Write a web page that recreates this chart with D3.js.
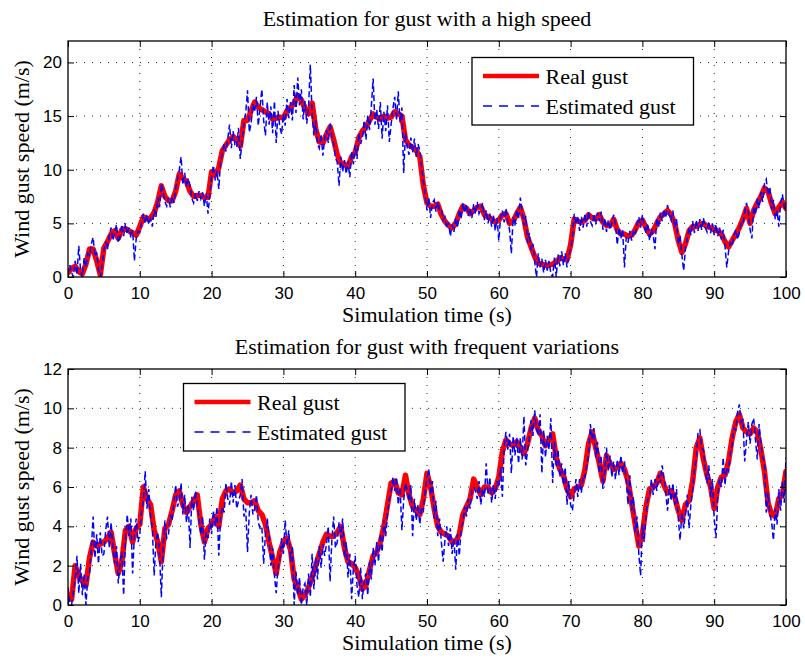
<!DOCTYPE html>
<html>
<head>
<meta charset="utf-8">
<script src="https://cdn.jsdelivr.net/npm/d3@7"></script>
<style>
  body { margin: 0; background: #fff; }
  svg { display: block; }
</style>
</head>
<body>
<svg id="chart" width="805" height="661"></svg>
<script>
// Time axis ticks (seconds) and speed ticks for each panel (m/s)
const timeTicks = [0, 10, 20, 30, 40, 50, 60, 70, 80, 90, 100];
const highSpeedTicks = [0, 5, 10, 15, 20];
const freqSpeedTicks = [0, 2, 4, 6, 8, 10, 12];

// Sampling periods of the two signals (s)
const realStep = 0.5;
const estStep = 0.25;

const legendLabels = ["Real gust", "Estimated gust"];

// Panel 1: gust with a high speed — real gust, every 0.5 s
const highReal = [
  0.4,0.8,1.0,0.5,0.3,1.2,2.6,2.6,1.5,0.2,
  2.7,3.3,4.0,4.3,3.6,4.4,4.5,4.3,4.1,3.9,
  4.7,5.6,5.4,5.5,6.0,7.0,8.5,7.5,7.1,7.1,
  8.0,9.6,9.2,8.9,8.0,7.5,7.6,7.6,7.4,7.4,
  9.8,9.5,10.2,11.8,12.3,12.8,13.1,12.8,12.2,14.6,
  14.6,15.5,16.3,15.8,15.6,15.4,15.2,14.7,14.8,14.9,
  14.8,15.5,15.8,16.2,16.9,16.5,15.8,15.2,16.2,13.8,
  12.6,12.5,13.3,14.0,12.8,11.4,10.6,10.5,10.3,11.2,
  11.6,13.0,13.6,14.0,14.6,15.2,14.9,14.7,15.0,14.8,
  14.9,15.4,15.2,15.0,12.8,12.3,12.1,11.8,11.2,8.5,
  6.9,6.6,6.6,6.8,5.8,5.2,4.8,4.6,5.0,5.9,
  6.6,6.4,5.9,6.2,6.5,6.6,5.8,5.6,5.4,5.1,
  5.3,5.8,5.9,5.0,5.2,5.9,6.5,5.4,3.7,2.8,
  1.9,1.3,1.2,1.1,1.1,1.2,1.4,1.8,1.7,1.6,
  3.0,5.4,5.2,5.1,5.3,5.8,5.5,5.4,5.8,5.1,
  4.8,4.8,5.4,4.4,4.0,4.0,3.8,3.9,4.4,5.1,
  5.3,4.6,4.0,4.3,5.0,5.6,5.9,6.2,5.8,5.0,
  3.4,2.3,3.1,4.3,4.7,4.7,4.9,5.0,4.7,4.6,
  4.4,4.3,4.0,3.3,2.8,3.4,4.0,4.6,5.4,6.4,
  5.0,6.2,6.9,7.5,8.3,8.0,6.8,5.9,6.5,7.0,
  6.4
];

// Panel 1: estimated gust, every 0.25 s
const highEst = [
  0.2,1.1,0.4,0.0, 1.5,0.2,2.9,0.6, 0.0,1.8,0.9,2.2, 2.0,3.1,3.7,1.9, 2.3,0.6,0.0,1.1,
  2.4,3.3,2.6,3.9, 4.6,3.4,4.1,4.9, 3.2,3.7,4.9,3.8, 5.0,4.0,4.6,3.7, 4.4,1.5,3.6,4.3,
  4.2,5.1,5.9,5.0, 5.8,4.9,5.4,4.7, 6.3,5.6,7.4,6.5, 8.7,7.9,7.0,6.6, 7.4,6.5,7.5,6.9,
  8.3,9.1,10.0,11.2, 8.6,9.7,8.4,9.2, 8.5,7.3,6.9,7.8, 7.1,8.0,7.3,7.9, 6.6,7.8,5.9,7.7,
  9.4,10.4,9.0,9.9, 8.2,10.8,11.5,12.4, 11.7,12.9,14.2,12.0, 13.6,12.3,12.1,13.9, 11.0,12.7,14.2,15.3,
  17.4,13.5,14.3,16.1, 15.4,16.8,14.1,15.9, 17.5,14.6,13.2,16.3, 14.2,15.9,13.4,16.4, 12.5,15.5,14.0,13.3,
  15.2,14.1,16.6,14.8, 16.3,14.6,17.9,15.3, 18.6,16.0,17.5,14.7, 16.4,14.3,15.8,19.8, 15.1,13.2,14.6,12.4,
  12.0,13.3,11.3,12.9, 13.7,12.5,14.4,13.1, 12.4,11.1,10.7,8.5, 11.2,9.8,10.9,9.6, 10.8,9.3,11.7,10.5,
  12.3,11.0,13.4,12.4, 13.0,14.6,12.8,15.1, 13.7,15.9,18.5,14.2, 15.6,13.8,16.3,12.9, 15.4,13.6,16.0,12.6,
  14.2,15.7,16.8,14.6, 17.3,14.4,15.8,9.7, 13.4,12.1,11.4,13.0, 11.6,12.9,11.2,12.4, 11.8,10.3,8.9,7.6,
  6.2,7.4,5.5,6.9, 7.2,6.1,7.0,6.3, 6.4,5.3,5.6,4.6, 5.1,3.8,4.9,4.2, 5.5,4.6,6.3,5.4,
  6.9,6.0,6.8,5.7, 6.4,5.5,6.8,5.9, 7.0,5.9,6.3,6.9, 5.3,6.2,5.0,5.9, 4.7,5.8,4.3,5.5,
  3.4,5.6,6.2,5.1, 6.4,5.2,4.4,2.2, 5.6,4.8,6.3,5.4, 7.4,6.1,4.8,5.7, 3.2,4.1,2.5,3.1,
  1.4,0.0,2.2,0.9, 1.7,0.4,1.6,0.6, 1.5,0.3,0.0,1.8, 0.0,2.1,1.0,2.4, 1.1,2.2,0.9,2.0,
  2.6,3.6,5.9,4.9, 5.7,4.3,5.6,4.6, 5.9,4.7,6.1,5.2, 4.8,5.9,4.9,6.0, 5.2,6.1,4.4,5.5,
  4.2,5.3,4.4,5.1, 5.8,4.9,3.0,4.6, 3.6,4.4,0.9,3.7, 3.2,4.3,3.4,4.2, 3.9,4.9,5.6,4.6,
  5.8,4.8,4.1,5.0, 3.4,4.5,3.9,2.6, 5.5,4.6,6.0,5.2, 6.3,5.5,6.7,5.8, 5.3,6.2,4.6,5.4,
  3.0,3.9,2.0,0.6, 2.7,3.6,4.6,3.9, 5.2,4.1,5.3,4.3, 5.4,4.4,5.5,4.6, 4.2,5.2,4.1,5.0,
  3.9,4.9,3.8,4.6, 3.5,4.4,2.9,0.9, 2.4,3.2,2.9,3.9, 4.4,3.5,4.1,5.1, 5.0,6.0,6.9,6.0,
  4.4,3.6,6.6,5.8, 7.3,6.4,7.9,7.0, 8.7,9.1,7.6,8.4, 6.3,7.2,5.4,6.2, 4.7,6.9,7.7,6.5,
  6.2
];

// Panel 2: gust with frequent variations — real gust, every 0.5 s
const freqReal = [
  0.5,0.3,2.0,1.5,1.2,1.0,2.4,3.2,3.0,3.1,
  3.2,3.4,3.7,2.6,1.6,2.2,3.8,4.0,3.2,3.9,
  4.1,6.0,5.4,5.1,3.8,3.2,2.2,3.9,4.1,4.8,
  5.6,5.8,5.1,4.7,5.0,5.3,5.6,4.1,3.2,3.9,
  4.1,4.5,4.0,5.4,5.8,5.9,5.7,5.8,6.1,5.4,
  5.2,5.2,5.3,4.8,4.6,4.1,3.2,2.4,1.6,2.7,
  3.2,3.4,2.8,1.3,0.9,0.3,0.5,0.9,1.4,2.0,
  2.6,3.2,3.6,3.5,3.5,3.7,4.0,2.9,2.2,2.1,
  1.9,1.5,0.8,1.0,1.8,2.5,2.7,3.2,4.0,5.1,
  6.2,6.3,5.7,5.6,6.6,5.6,5.0,4.8,4.6,5.4,
  6.7,6.0,4.9,4.0,3.7,3.6,3.5,3.2,3.2,3.6,
  4.6,5.0,5.4,6.4,6.0,5.6,6.0,6.0,5.7,5.9,
  6.5,7.8,8.4,8.2,8.1,8.3,8.0,7.7,8.2,9.0,
  9.5,8.9,8.6,8.1,8.4,8.7,7.5,6.9,6.6,5.9,
  5.5,5.9,6.0,6.1,6.9,8.2,8.8,8.0,7.2,6.3,
  7.6,7.2,6.9,7.0,7.2,6.9,6.3,5.2,4.1,3.0,
  3.6,5.0,5.9,6.0,6.2,6.7,6.1,5.7,5.8,5.5,
  4.8,4.3,5.1,5.3,6.3,8.0,8.5,7.4,6.6,6.0,
  4.9,6.0,6.5,6.6,7.3,8.5,9.3,9.7,9.0,8.8,
  8.7,9.0,8.8,7.9,6.8,5.2,4.6,4.5,5.4,5.6,
  6.8
];

// Panel 2: estimated gust, every 0.25 s
const freqEst = [
  0.9,0.1,0.0,0.7, 1.3,2.5,0.6,2.1, 0.5,1.6,0.0,1.4, 1.6,2.9,4.5,2.4, 3.6,2.1,3.7,2.5,
  2.6,3.8,4.5,2.9, 4.2,3.0,2.1,3.0, 1.1,2.2,2.7,0.5, 3.3,4.6,3.5,4.4, 1.6,3.6,4.4,3.2,
  3.6,4.7,5.3,6.8, 4.9,5.9,4.5,3.9, 1.5,3.3,3.7,2.6, 0.4,2.9,4.3,3.4, 3.6,4.6,4.3,5.2,
  6.1,5.0,5.3,6.2, 4.6,5.6,4.2,5.1, 2.9,5.5,4.8,5.8, 5.1,4.4,3.6,4.5, 2.3,3.7,3.4,4.4,
  3.6,4.8,4.0,5.0, 2.5,4.4,5.0,4.7, 6.2,5.4,5.1,6.3, 5.2,6.1,4.9,5.3, 5.6,6.4,4.5,4.9,
  2.7,4.7,5.6,4.6, 4.9,5.6,4.2,3.9, 4.0,2.1,3.6,4.4, 3.5,2.0,2.9,1.5, 0.6,1.9,2.3,3.4,
  2.6,4.3,3.0,3.8, 2.2,3.0,0.0,1.7, 0.5,1.4,0.0,0.9, 1.1,0.0,1.6,0.4, 2.6,0.8,2.4,1.3,
  3.0,1.9,3.1,2.5, 3.1,4.0,1.2,3.3, 4.5,2.9,3.2,4.2, 3.4,4.4,2.4,3.2, 1.4,2.6,0.3,1.9,
  2.5,1.0,0.4,1.9, 0.3,1.3,1.6,0.5, 2.2,1.3,2.9,2.0, 3.2,2.2,3.6,2.7, 4.3,3.5,4.6,5.4,
  5.7,6.5,5.8,6.5, 5.1,6.0,3.8,5.3, 6.2,5.8,5.3,6.1, 3.5,5.4,4.3,5.1, 4.1,5.0,4.8,5.9,
  6.4,6.9,5.6,6.3, 4.4,5.3,3.5,4.4, 3.2,2.2,3.3,4.0, 3.0,3.9,2.6,3.4, 1.8,3.6,2.5,3.9,
  4.2,5.0,4.5,5.4, 4.9,5.8,6.0,5.8, 5.4,6.3,5.1,5.9, 5.5,7.2,5.6,6.5, 5.2,6.1,5.4,6.3,
  6.0,7.0,5.5,8.1, 8.8,7.9,8.7,6.7, 8.6,7.6,8.5,7.2, 8.5,7.4,9.6,7.1, 7.8,8.5,9.4,8.6,
  9.9,9.0,8.6,9.7, 6.7,8.9,7.5,8.6, 7.9,9.5,6.2,8.3, 7.0,7.9,6.5,7.2, 6.1,7.0,5.1,6.3,
  5.1,4.8,5.6,6.4, 5.5,6.4,5.7,6.6, 6.5,7.1,7.6,9.2, 8.4,9.0,7.5,8.3, 6.7,7.6,5.9,6.8,
  8.0,6.8,7.6,6.5, 7.3,6.4,7.4,6.6, 7.6,6.7,7.3,6.3, 5.1,6.6,4.8,5.5, 3.7,4.5,2.6,1.5,
  4.1,3.2,4.6,5.4, 5.5,6.4,5.6,6.4, 5.8,6.6,6.2,7.1, 6.5,5.7,4.8,6.1, 5.3,6.2,5.1,5.9,
  4.4,3.3,4.7,3.9, 4.6,5.6,3.9,5.1, 5.8,6.9,7.4,8.8, 8.9,8.0,7.9,6.9, 6.2,7.1,5.5,6.4,
  4.4,3.4,5.5,6.4, 6.0,7.5,6.1,7.0, 6.8,7.7,8.1,9.0, 8.9,9.8,10.2,9.3, 9.4,7.3,8.4,9.3,
  8.2,9.2,9.5,8.4, 7.4,9.2,8.3,7.5, 7.3,4.7,5.7,4.6, 4.2,3.3,4.9,4.1, 5.9,4.8,6.3,5.2,
  7.5
];

const panels = [
  { id: "high", title: "Estimation for gust with a high speed",
    top: 41, bottom: 277, yMax: 22, yTicks: highSpeedTicks,
    real: highReal, est: highEst, legend: { x: 472, y: 57.5 } },
  { id: "freq", title: "Estimation for gust with frequent variations",
    top: 369, bottom: 605, yMax: 12, yTicks: freqSpeedTicks,
    real: freqReal, est: freqEst, legend: { x: 183.5, y: 383.5 } }
];

const svg = d3.select("#chart");
const plotLeft = 68, plotRight = 786;
const serif = "'Liberation Serif', 'Times New Roman', Times, serif";
const sans = "'Liberation Sans', Arial, Helvetica, sans-serif";
const defs = svg.append("defs");

panels.forEach(p => {
  const x = d3.scaleLinear().domain([0, 100]).range([plotLeft, plotRight]);
  const y = d3.scaleLinear().domain([0, p.yMax]).range([p.bottom, p.top]);
  const g = svg.append("g");

  defs.append("clipPath").attr("id", "clip-" + p.id)
    .append("rect")
    .attr("x", plotLeft).attr("y", p.top)
    .attr("width", plotRight - plotLeft).attr("height", p.bottom - p.top);

  // dotted grid
  const grid = g.append("g").attr("stroke", "#222").attr("stroke-width", 1)
    .attr("stroke-dasharray", "1,7");
  grid.selectAll("line.gx").data(timeTicks.slice(1, -1)).join("line")
    .attr("x1", d => x(d)).attr("x2", d => x(d))
    .attr("y1", p.top).attr("y2", p.bottom);
  grid.selectAll("line.gy").data(p.yTicks.filter(v => v > 0 && v < p.yMax)).join("line")
    .attr("x1", plotLeft).attr("x2", plotRight)
    .attr("y1", d => y(d)).attr("y2", d => y(d));

  // signals: real gust underneath, estimate dashed on top
  const lines = g.append("g").attr("clip-path", `url(#clip-${p.id})`);
  const realLine = d3.line().x((d, i) => x(i * realStep)).y(d => y(d));
  const estLine = d3.line().x((d, i) => x(i * estStep)).y(d => y(d));
  lines.append("path").datum(p.real)
    .attr("d", realLine).attr("fill", "none")
    .attr("stroke", "#ff0000").attr("stroke-width", 5.5)
    .attr("stroke-linejoin", "round").attr("stroke-linecap", "round");
  lines.append("path").datum(p.est)
    .attr("d", estLine).attr("fill", "none")
    .attr("stroke", "#0000ff").attr("stroke-width", 1.5)
    .attr("stroke-dasharray", "6,3");

  // axes: ticks pointing inward on all four sides
  const styleAxis = sel => {
    sel.select(".domain").remove();
    sel.selectAll(".tick line").attr("stroke", "#000").attr("stroke-width", 1);
    sel.selectAll(".tick text").attr("fill", "#000")
      .style("font-family", sans).style("font-size", "17px");
  };
  g.append("g").attr("transform", `translate(0,${p.bottom})`)
    .call(d3.axisBottom(x).tickValues(timeTicks).tickSizeInner(-6).tickSizeOuter(0).tickPadding(10))
    .call(styleAxis);
  g.append("g").attr("transform", `translate(0,${p.top})`)
    .call(d3.axisTop(x).tickValues(timeTicks).tickSizeInner(-6).tickSizeOuter(0).tickFormat(""))
    .call(styleAxis);
  g.append("g").attr("transform", `translate(${plotLeft},0)`)
    .call(d3.axisLeft(y).tickValues(p.yTicks).tickSizeInner(-6).tickSizeOuter(0).tickPadding(6))
    .call(styleAxis);
  g.append("g").attr("transform", `translate(${plotRight},0)`)
    .call(d3.axisRight(y).tickValues(p.yTicks).tickSizeInner(-6).tickSizeOuter(0).tickFormat(""))
    .call(styleAxis);

  // box
  g.append("rect")
    .attr("x", plotLeft).attr("y", p.top)
    .attr("width", plotRight - plotLeft).attr("height", p.bottom - p.top)
    .attr("fill", "none").attr("stroke", "#000").attr("stroke-width", 1.3);

  // title and axis labels
  g.append("text").text(p.title)
    .attr("x", (plotLeft + plotRight) / 2).attr("y", p.top - 15)
    .attr("text-anchor", "middle")
    .style("font-family", serif).style("font-size", "22px");
  g.append("text").text("Simulation time (s)")
    .attr("x", (plotLeft + plotRight) / 2).attr("y", p.bottom + 45)
    .attr("text-anchor", "middle")
    .style("font-family", serif).style("font-size", "22px");
  g.append("text").text("Wind gust speed (m/s)")
    .attr("transform", `translate(29,${(p.top + p.bottom) / 2}) rotate(-90)`)
    .attr("text-anchor", "middle")
    .style("font-family", serif).style("font-size", "22px");

  // legend
  const L = g.append("g").attr("transform", `translate(${p.legend.x},${p.legend.y})`);
  L.append("rect").attr("width", 221.5).attr("height", 67.5)
    .attr("fill", "#fff").attr("stroke", "#000").attr("stroke-width", 1.3);
  L.append("line").attr("x1", 11).attr("x2", 67).attr("y1", 18.5).attr("y2", 18.5)
    .attr("stroke", "#ff0000").attr("stroke-width", 4.5);
  L.append("line").attr("x1", 11).attr("x2", 67).attr("y1", 48.5).attr("y2", 48.5)
    .attr("stroke", "#0000ff").attr("stroke-width", 1.3)
    .attr("stroke-dasharray", "9,7");
  L.selectAll("text.lab").data(legendLabels).join("text")
    .attr("x", 73.5).attr("y", (d, i) => 26 + i * 30)
    .text(d => d)
    .style("font-family", serif).style("font-size", "22px");
});
</script>
</body>
</html>
